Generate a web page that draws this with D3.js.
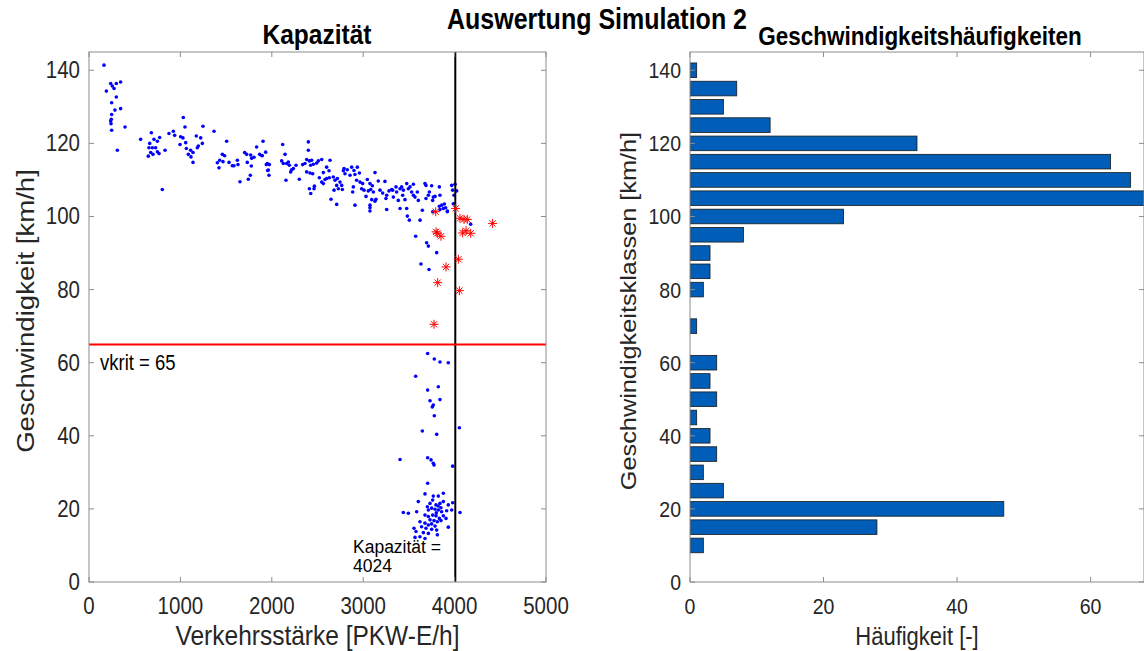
<!DOCTYPE html>
<html><head><meta charset="utf-8">
<script src="https://cdn.jsdelivr.net/npm/d3@7"></script>
<style>body{margin:0;background:#fff}svg{font-family:"Liberation Sans",Arial,sans-serif}</style>
</head><body><svg id="c" width="1144" height="651"></svg>
<script>
// ---------- DATA ----------
const bluePoints = [
[164,141.4],[190,134.3],[237,136.4],[255,135.7],[274,135],[299,136.4],[346,136.8],[299,132.7],[248,131.1],[284,129.1],[346,129.5],[248,127.9],[244,126.6],[237,126.1],[241,125.4],[394,124.5],[248,123.6],[310,118.1],
[565,121.1],[682,122.9],[711,121.1],[664,120],[773,121.6],[748,120.6],[656,118.8],[693,118.8],[729,118.8],[675,117.5],[700,117],[748,117.7],[766,117.2],[649,116.5],[832,118.1],[802,107.4],[875,122.7],[923,123.3],[937,122.2],
[1032,127.1],[1050,124.5],[1003,121.8],[1028,121.5],[996,119.7],[1058,120.2],[1065,118.6],[1112,118.1],[1087,117],[1138,117.5],[1116,116.3],[1138,114.8],[1174,122],[1222,121.5],[1240,120],[1196,119.3],[1185,118.8],[1247,124.7],[1368,123.3],
[1506,120.6],[1459,117],[1484,116.6],[1404,114.7],[1430,115.4],[1422,113.3],[1466,115],[1532,114.8],[1568,113.9],[1623,115.4],[1630,114.2],[1586,113.9],[1652,109.5],[1703,117.5],[1725,117],[1769,116.8],[1780,115.9],[1805,116.2],[1732,114.8],[1776,113.8],[1743,110.2],[1765,111.3],
[1834,119],[1904,120.6],[1867,117],[1896,116.6],[1940,114.2],[1962,112.7],[1969,111.3],[1933,117.6],[1889,116.7],[1951,114.5],[1973,114.2],[1955,112.6],
[2119,119.7],[2145,117],[2108,115.2],[2126,114.5],[2163,114.5],[2192,114],[2181,114.9],[2217,112.8],[2236,113.1],[2207,112.2],[2155,109.9],[2265,114],[2301,110.2],[2338,114.2],[2363,114.5],[2400,120.4],[2400,118.1],[2382,115.6],[2411,115.2],[2436,115.4],[2425,114],[2455,114.3],[2491,114.6],[2509,115.2],[2546,115.6],[2382,112.2],[2418,111.9],[2447,111.7],[2564,112],[2600,113.5],[2626,112.5],[2637,115.4],
[2520,110.6],[2546,109.4],[2582,110.1],[2564,109],[2600,110.4],[2629,110.6],[2673,110.8],[2692,109.9],[2717,110.4],[2746,109.4],[2710,108.5],[2765,108.5],[2411,107.6],[2426,106.3],[2462,107.6],[2466,108.3],[2648,104.7],[2710,103.3],[2681,107.2],[2728,107.6],[2772,107.4],
[2783,112.5],[2801,111.7],[2826,112.8],[2790,113.1],[2856,111.3],[2874,113.5],[2899,112.6],[2936,113.5],[2910,111.5],[2958,111.9],[2928,109.9],[2965,109.4],[2892,108.1],[2885,106.7],[2910,103.1],[2994,109],[2983,107.6],[3009,107.2],[3045,110.1],[3074,109],[3056,107],[3031,105.5],[3082,107.4],[3100,108.4],[3129,112],[3111,106.7],[3140,104.7],[3165,109.7],[3093,104.6],[3129,104.2],[3074,103.1],[3074,102.4],[3074,101.5],
[3184,107.2],[3213,106.4],[3238,109.6],[3257,105.8],[3249,104.9],[3282,107],[3311,107.4],[3257,101.9],[3330,105.3],[3322,107.2],[3359,108.1],[3366,106.7],[3403,107.6],[3384,104.4],[3403,102.2],[3421,108.1],[3439,107.2],[3432,105.8],[3457,104.6],[3476,109],[3494,107.6],[3512,108.1],[3476,102.2],[3483,100.1],[3505,99],[3530,106.7],[3549,108.8],[3549,105.8],[3567,105.3],[3592,106.7],[3603,104.4],[3622,99],[3647,101.7],[3676,109],[3687,108.5],[3687,104.9],[3713,105.8],[3724,106.7],[3749,108.4],[3760,104.4],[3767,105.3],[3786,105.5],[3833,108.1],[3840,105.8],[3833,102.8],[3840,101.9],[3859,103.1],[3877,102.2],[3888,103.4],[3902,102.4],[3921,101.5],[3968,108.5],[3979,107.2],[3994,105.8],[4023,107],[3986,103.5],[4005,108.8],
[4176,97.9],[3574,94.6],[3694,92.8],[3713,91.9],[3804,90.1],[3632,87],[3720,85.5],[3760,101.3],[3920,101.3],
[3705,62.5],[3778,61],[3840,60.2],[3931,60],[3574,56.3],[3822,53.4],[3705,52.5],[3731,49.6],[3840,49.9],[3767,48.4],[3756,47.9],[3778,45.5],[4052,42.2],[3647,41.3],[3804,40.4],[3403,33.5],[3705,34],[3742,33.4],[3767,32.5],[3775,32],[3979,31.7],
[3705,27],[3676,24.1],[3767,23.5],[3822,23.5],[3877,24.3],[3877,22],[3840,21.5],[3796,21.1],[3731,21.5],[3702,20.6],[3603,22],[3585,19.2],[3439,19],[3494,18.8],[3713,19.7],[3749,20.2],[3786,19.9],[3822,19.7],[3858,19.2],[3913,19.5],[3968,19.7],[4059,19],[3931,21.1],[3979,21.7],
[3676,18.3],[3713,17.9],[3760,18.3],[3796,18.1],[3833,17.4],[3877,18.1],[3906,17.4],[3731,17],[3775,16.8],[3811,16.5],[3851,16.8],[3621,16.5],[3676,16.1],[3713,15.6],[3749,15.9],[3786,15.3],[3639,15.1],[3687,14.7],[3749,14.4],[3804,14.2],[3931,15],[3556,14.7],[3578,13.8],[3658,13.5],[3713,13.3],[3621,12.4],[3676,11.9],[3811,12.9],[3567,12.2],[3820,20.8],[3850,20.3],[3760,22.4],[3800,18.9]
];
const redPoints = [
[3793,101.3],[4012,102.2],[4059,99.5],[4103,99.2],[4139,99.2],[4416,98.1],[3797,95.8],[3811,95.4],[3851,94.6],[4088,95.5],[4125,96.1],[4176,95.4],[4041,88.3],[3906,86.2],[3815,81.9],[4052,79.7],[3775,70.5]
];
const vkrit = 65;
const capacity = 4024;
const histClasses = [140,135,130,125,120,115,110,105,100,95,90,85,80,75,70,65,60,55,50,45,40,35,30,25,20,15,10];
const histCounts  = [1,7,5,12,34,63,66,70,23,8,3,3,2,0,1,0,4,3,4,1,3,4,2,5,47,28,2];
const flowTicks = [0,1000,2000,3000,4000,5000];
const speedTicks = [0,20,40,60,80,100,120,140];
const countTicks = [0,20,40,60];

// ---------- LAYOUT ----------
const svg = d3.select("#c");
const yTop = 52, yBot = 582;
const L = {x0:89, x1:546};
const R = {x0:690, x1:1144};
const axisCol = "#262626", boxCol = "#8c8c8c";
const ST = 1.15; // vertical stretch of the reference's glyphs

const xL = d3.scaleLinear().domain([0,5000]).range([L.x0,L.x1]);
const yS = d3.scaleLinear().domain([0,145]).range([yBot,yTop]);
const xR = d3.scaleLinear().domain([0,68]).range([R.x0,R.x1]);

function txt(g, x, y, str, fs, opt={}){
  const st = opt.stretch === undefined ? ST : opt.stretch;
  const rot = opt.rotate ? ` rotate(-90) scale(${st},1)` : ` scale(1,${st})`;
  return g.append("text").attr("transform",`translate(${x},${y})${rot}`)
    .attr("text-anchor",opt.anchor||"start").attr("font-size",fs)
    .attr("font-weight",opt.bold?"bold":"normal").attr("fill",opt.fill||axisCol).text(str);
}

function frame(g, xs, ticksX, ys, ticksY, fs){
  const x0 = xs.range()[0], x1 = xs.range()[1];
  g.append("rect").attr("x",x0).attr("y",yTop).attr("width",x1-x0).attr("height",yBot-yTop)
    .attr("fill","none").attr("stroke",boxCol).attr("stroke-width",1);
  const tl = 5;
  ticksX.forEach(t=>{
    const x = xs(t);
    g.append("line").attr("x1",x).attr("x2",x).attr("y1",yBot).attr("y2",yBot-tl).attr("stroke",boxCol);
    g.append("line").attr("x1",x).attr("x2",x).attr("y1",yTop).attr("y2",yTop+tl).attr("stroke",boxCol);
    txt(g, x, 614, t, fs, {anchor:"middle"});
  });
  ticksY.forEach(t=>{
    const y = ys(t);
    g.append("line").attr("x1",x0).attr("x2",x0+tl).attr("y1",y).attr("y2",y).attr("stroke",boxCol);
    g.append("line").attr("x1",x1).attr("x2",x1-tl).attr("y1",y).attr("y2",y).attr("stroke",boxCol);
    txt(g, x0-9, y+8, t, fs, {anchor:"end"});
  });
}

// ---------- LEFT ----------
const gL = svg.append("g");
svg.append("clipPath").attr("id","clipL").append("rect").attr("x",L.x0).attr("y",yTop).attr("width",L.x1-L.x0).attr("height",yBot-yTop);
const pL = gL.append("g").attr("clip-path","url(#clipL)");
pL.selectAll("circle.b").data(bluePoints).join("circle")
  .attr("cx",d=>xL(d[0])).attr("cy",d=>yS(d[1])).attr("r",1.8).attr("fill","#0000ff");
pL.append("line").attr("x1",xL(capacity)-1.5).attr("x2",xL(capacity)-1.5).attr("y1",yTop).attr("y2",yBot)
  .attr("stroke","#000").attr("stroke-width",2);
pL.append("line").attr("x1",L.x0).attr("x2",L.x1).attr("y1",yS(vkrit)).attr("y2",yS(vkrit))
  .attr("stroke","#ff0000").attr("stroke-width",2);
const star = pL.selectAll("g.s").data(redPoints).join("g")
  .attr("transform",d=>`translate(${xL(d[0])},${yS(d[1])})`);
const s = 4.5;
[[-s,0,s,0],[0,-s,0,s],[-s*0.7,-s*0.7,s*0.7,s*0.7],[-s*0.7,s*0.7,s*0.7,-s*0.7]].forEach(l=>{
  star.append("line").attr("x1",l[0]).attr("y1",l[1]).attr("x2",l[2]).attr("y2",l[3])
    .attr("stroke","#ff0000").attr("stroke-width",1);
});
frame(gL, xL, flowTicks, yS, speedTicks, 20.5);
txt(gL, 100, 370, "vkrit = "+vkrit, 18.5, {fill:"#000"});
txt(gL, 353, 553, "Kapazität =", 17.5, {fill:"#000", stretch:1.05});
txt(gL, 353, 572, capacity, 17.5, {fill:"#000", stretch:1.05});
txt(gL, (L.x0+L.x1)/2, 645, "Verkehrsstärke [PKW-E/h]", 24.5, {anchor:"middle"});
txt(gL, 34, (yTop+yBot)/2 - 6, "Geschwindigkeit [km/h]", 24, {anchor:"middle", rotate:true});
txt(gL, 317, 44, "Kapazität", 24.5, {anchor:"middle", bold:true, fill:"#000"});

// ---------- RIGHT ----------
const gR = svg.append("g");
svg.append("clipPath").attr("id","clipR").append("rect").attr("x",R.x0).attr("y",yTop).attr("width",R.x1-R.x0).attr("height",yBot-yTop);
const hist = histClasses.map((c,i)=>({c, n:histCounts[i]})).filter(d=>d.n>0);
gR.append("g").attr("clip-path","url(#clipR)").selectAll("rect").data(hist).join("rect")
  .attr("x",xR(0)).attr("y",d=>yS(d.c+2)).attr("width",d=>xR(d.n)-xR(0)).attr("height",d=>yS(d.c-2)-yS(d.c+2))
  .attr("fill","#005EB8").attr("stroke","#1a1a1a").attr("stroke-width",0.8);
frame(gR, xR, countTicks, yS, speedTicks, 19.5);
txt(gR, 917, 645, "Häufigkeit [-]", 22, {anchor:"middle"});
txt(gR, 636, (yTop+yBot)/2 - 6, "Geschwindigkeitsklassen [km/h]", 22, {anchor:"middle", rotate:true});
txt(gR, 920, 45, "Geschwindigkeitshäufigkeiten", 22.5, {anchor:"middle", bold:true, fill:"#000"});

txt(svg, 597, 29, "Auswertung Simulation 2", 25, {anchor:"middle", bold:true, fill:"#000"});
</script></body></html>
